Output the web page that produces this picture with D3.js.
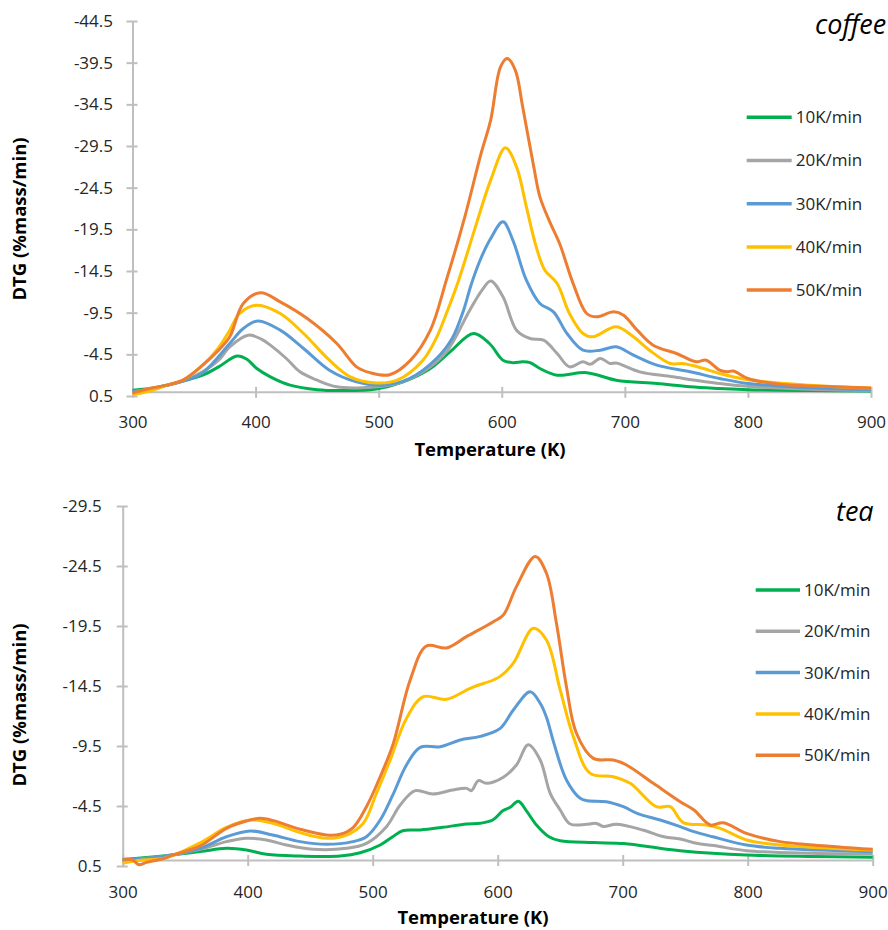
<!DOCTYPE html>
<html>
<head>
<meta charset="utf-8">
<script src="https://cdn.jsdelivr.net/npm/d3@7"></script>
<style>
  html, body { margin: 0; padding: 0; background: #fff; }
  svg { display: block; font-family: "Open Sans", sans-serif; }
</style>
</head>
<body>
<svg id="chart" width="888" height="930"></svg>
<script>
// ---------------- DATA ----------------
const seriesNames = ["10K/min", "20K/min", "30K/min", "40K/min", "50K/min"];
const seriesColors = ["#00B050", "#A5A5A5", "#5B9BD5", "#FFC000", "#ED7D31"];

const xTicks = [300, 400, 500, 600, 700, 800, 900];
const coffeeYTicks = ["0.5", "-4.5", "-9.5", "-14.5", "-19.5", "-24.5", "-29.5", "-34.5", "-39.5", "-44.5"];
const teaYTicks = ["0.5", "-4.5", "-9.5", "-14.5", "-19.5", "-24.5", "-29.5"];

// coffee: [temperature K, DTG %mass/min]
const coffee10 = [[300,-0.2],[314,-0.4],[328,-0.8],[341,-1.3],[357,-2.0],[370,-3.0],[385,-4.3],[393,-3.9],[401,-2.8],[412,-1.8],[428,-0.8],[450,-0.25],[471,-0.15],[498,-0.35],[520,-1.2],[542,-2.8],[558,-4.8],[577,-7.0],[590,-5.8],[601,-3.8],[609,-3.5],[617,-3.6],[623,-3.5],[631,-2.8],[645,-2.0],[669,-2.3],[693,-1.4],[726,-1.0],[753,-0.6],[777,-0.4],[800,-0.25],[850,-0.15],[900,-0.1]];
const coffee20 = [[300,0.0],[314,-0.3],[328,-0.8],[341,-1.3],[357,-2.4],[370,-3.8],[379,-5.4],[394,-6.8],[405,-6.3],[412,-5.6],[425,-4.0],[436,-2.4],[450,-1.4],[466,-0.6],[487,-0.5],[515,-1.0],[536,-2.4],[555,-4.8],[574,-9.8],[584,-12.2],[591,-13.3],[601,-11.4],[612,-7.4],[623,-6.4],[634,-6.2],[645,-4.6],[655,-3.0],[666,-3.6],[672,-3.3],[680,-4.0],[688,-3.4],[693,-3.45],[712,-2.4],[739,-1.8],[777,-1.0],[800,-0.66],[850,-0.3],[900,-0.15]];
const coffee30 = [[300,-0.05],[314,-0.3],[328,-0.8],[341,-1.3],[357,-2.3],[379,-5.8],[390,-7.6],[402,-8.5],[420,-7.4],[439,-5.2],[460,-2.6],[482,-1.2],[504,-0.8],[525,-1.6],[547,-4.0],[560,-6.5],[569,-9.8],[575,-12.8],[583,-16.0],[591,-18.4],[601,-20.4],[609,-18.2],[620,-13.4],[631,-10.6],[642,-9.6],[653,-7.0],[666,-5.0],[680,-5.0],[693,-5.4],[707,-4.4],[726,-3.2],[753,-2.4],[777,-1.6],[800,-1.0],[850,-0.5],[900,-0.25]];
const coffee40 = [[300,0.35],[314,-0.1],[328,-0.8],[341,-1.4],[357,-3.2],[370,-5.3],[379,-7.4],[387,-9.4],[401,-10.4],[420,-9.4],[439,-7.0],[460,-3.8],[477,-1.8],[498,-1.06],[515,-1.4],[536,-3.8],[547,-6.5],[555,-9.4],[565,-13.4],[578,-19.5],[591,-25.4],[603,-29.3],[612,-27.0],[620,-22.2],[628,-17.4],[635,-14.6],[645,-13.0],[655,-9.4],[666,-7.0],[674,-6.6],[693,-7.8],[707,-6.6],[720,-5.0],[737,-3.4],[747,-3.4],[764,-2.8],[777,-2.2],[800,-1.46],[850,-0.8],[900,-0.45]];
const coffee50 = [[300,0.15],[314,-0.4],[328,-0.8],[341,-1.4],[357,-3.2],[370,-5.0],[379,-6.6],[390,-10.6],[404,-11.9],[420,-10.8],[442,-8.8],[466,-5.8],[482,-3.0],[493,-2.3],[509,-2.05],[526,-3.8],[542,-7.4],[555,-13.4],[570,-21.0],[583,-28.5],[591,-32.6],[599,-39.0],[604.5,-40.0],[611,-38.6],[617,-34.2],[626,-27.0],[631,-23.4],[639,-20.4],[647,-17.8],[658,-13.0],[669,-9.4],[677,-9.0],[691,-9.6],[699,-9.2],[710,-7.4],[723,-5.6],[742,-4.6],[758,-3.6],[766,-3.8],[777,-2.6],[783,-2.4],[788,-2.5],[800,-1.6],[826,-0.9],[859,-0.66],[900,-0.46]];

// tea: [temperature K, DTG %mass/min]
const tea10 = [[300,-0.05],[332,-0.33],[362,-0.7],[383,-0.97],[399,-0.83],[415,-0.47],[442,-0.33],[474,-0.33],[490,-0.6],[506,-1.25],[516,-1.94],[524,-2.44],[538,-2.5],[556,-2.72],[575,-3.0],[586,-3.06],[596,-3.33],[604,-4.1],[610,-4.4],[616.5,-4.9],[623,-4.1],[631,-2.92],[641,-1.94],[650,-1.6],[677,-1.45],[701,-1.37],[730,-0.97],[746,-0.78],[772,-0.56],[799,-0.42],[850,-0.3],[900,-0.22]];
const tea20 = [[300,0.0],[332,-0.3],[362,-0.89],[383,-1.53],[399,-1.81],[415,-1.67],[431,-1.25],[452,-0.89],[479,-0.97],[495,-1.39],[511,-2.78],[522,-4.58],[534,-5.78],[548,-5.5],[564,-5.83],[575,-5.97],[579,-5.78],[584.5,-6.61],[591,-6.39],[604.5,-6.9],[615,-7.92],[624.5,-9.6],[634,-8.33],[642,-5.56],[650,-4.17],[658,-3.0],[671,-2.97],[679,-3.05],[684.5,-2.8],[695,-2.97],[716,-2.5],[733,-1.94],[746,-1.75],[759,-1.39],[773,-1.2],[799,-0.78],[852,-0.56],[900,-0.5]];
const tea30 = [[300,0.0],[332,-0.3],[362,-0.97],[383,-1.94],[402,-2.42],[420,-2.08],[442,-1.53],[463,-1.31],[484,-1.53],[495,-1.94],[506,-3.33],[516,-5.4],[527,-7.92],[538,-9.39],[554,-9.44],[570,-10.0],[586,-10.3],[602,-10.97],[612.5,-12.5],[626,-14.03],[634,-13.06],[639,-11.9],[645,-9.72],[655,-6.67],[666,-5.14],[672,-4.94],[687,-4.86],[700.5,-4.44],[712,-3.86],[730,-3.33],[746,-2.78],[757,-2.36],[772,-1.94],[799,-1.25],[826,-0.97],[900,-0.69]];
const tea40 = [[300,0.28],[313,0.05],[335,-0.2],[362,-1.44],[383,-2.72],[402,-3.33],[420,-3.06],[442,-2.28],[463,-1.81],[479,-2.08],[492.5,-3.06],[503,-5.56],[514,-8.33],[527,-11.8],[540.5,-13.61],[559,-13.39],[578,-14.31],[596.5,-15.0],[602,-15.3],[612.5,-16.4],[628.5,-19.31],[639,-18.33],[650,-14.17],[660.5,-10.28],[674,-7.22],[692.5,-6.94],[706,-6.39],[727,-4.44],[738,-4.44],[748.5,-3.11],[767,-2.92],[778,-2.64],[799,-1.67],[826,-1.25],[900,-0.83]];
const tea50 = [[300,-0.05],[308,0.0],[313,0.4],[319,0.2],[332,-0.1],[340,-0.4],[362,-1.17],[383,-2.64],[399,-3.25],[410,-3.47],[420.5,-3.28],[442,-2.56],[463,-2.08],[474,-2.14],[484.5,-2.72],[495,-4.44],[506,-6.94],[516.5,-9.72],[530,-15.0],[543,-17.83],[559,-17.67],[575,-18.61],[596.5,-19.86],[604.5,-20.42],[615,-22.78],[630,-25.3],[639,-23.9],[647,-19.72],[655,-14.44],[663,-10.56],[676.5,-8.47],[692.5,-8.33],[703,-7.92],[724.5,-6.39],[746,-4.86],[757,-4.17],[770,-2.92],[780.5,-3.11],[799,-2.22],[826,-1.53],[852.5,-1.25],[900,-0.89]];

const coffeeSeries = [coffee10, coffee20, coffee30, coffee40, coffee50];
const teaSeries = [tea10, tea20, tea30, tea40, tea50];

// ---------------- DRAW ----------------
const svg = d3.select("#chart");
svg.append("rect").attr("width", 888).attr("height", 930).attr("fill", "#fff");

const AXIS = "#BFBFBF";
const TEXT = "#262626";

function panel(cfg) {
  const g = svg.append("g");
  const x = d3.scaleLinear().domain([300, 900]).range([cfg.x0, cfg.x1]);
  const y = d3.scaleLinear().domain([0.5, cfg.yMax]).range([cfg.yBottom, cfg.yTop]);
  const tickVals = cfg.yTicks.map(Number);

  // y axis
  const ya = g.append("g").attr("transform", `translate(${cfg.x0},0)`)
    .call(d3.axisLeft(y).tickValues(tickVals).tickFormat((d, i) => cfg.yTicks[i]).tickSizeOuter(0));
  ya.select(".domain").attr("stroke", AXIS).attr("stroke-width", 2);
  ya.selectAll(".tick line").attr("stroke", AXIS).attr("stroke-width", 2).attr("x1", 5).attr("x2", -6);
  ya.selectAll(".tick text").attr("x", -cfg.yLabelGap).attr("fill", TEXT)
    .style("font-size", "17px").style("font-family", '"Open Sans", sans-serif');

  // x axis at value 0
  const xa = g.append("g").attr("transform", `translate(0,${y(0)})`)
    .call(d3.axisBottom(x).tickValues(xTicks).tickFormat(d3.format("d")).tickSizeOuter(0));
  xa.select(".domain").attr("stroke", AXIS).attr("stroke-width", 2);
  xa.selectAll(".tick line").attr("stroke", AXIS).attr("stroke-width", 2).attr("y1", -5).attr("y2", 6);
  xa.selectAll(".tick text").attr("y", cfg.xLabelDy).attr("dy", 0).attr("fill", TEXT)
    .style("font-size", "17px").style("font-family", '"Open Sans", sans-serif');

  // lines
  const line = d3.line().x(d => x(d[0])).y(d => y(d[1])).curve(d3.curveCatmullRom.alpha(0.5));
  cfg.series.forEach((s, i) => {
    g.append("path").datum(s).attr("d", line).attr("fill", "none")
      .attr("stroke", seriesColors[i]).attr("stroke-width", 3).attr("stroke-linejoin", "round");
  });

  // axis titles
  g.append("text").attr("x", cfg.xTitleX).attr("y", cfg.xTitleY).attr("text-anchor", "middle")
    .attr("fill", "#000").style("font-weight", "bold").style("font-size", "18.5px").text("Temperature (K)");
  g.append("text").attr("transform", `translate(${cfg.yTitleX},${cfg.yTitleY}) rotate(-90)`)
    .attr("text-anchor", "middle").attr("dy", "0.35em")
    .attr("fill", "#000").style("font-weight", "bold").style("font-size", "18.5px").text("DTG (%mass/min)");

  // panel title
  g.append("text").attr("x", cfg.titleX).attr("y", cfg.titleY).attr("fill", "#000")
    .style("font-style", "italic").style("font-size", "27px").text(cfg.title);

  // legend
  seriesNames.forEach((n, i) => {
    const ly = cfg.legY + i * cfg.legStep;
    g.append("line").attr("x1", cfg.legX0).attr("x2", cfg.legX1).attr("y1", ly).attr("y2", ly)
      .attr("stroke", seriesColors[i]).attr("stroke-width", 3.5);
    g.append("text").attr("x", cfg.legX1 + 4).attr("y", ly).attr("dy", "0.35em").attr("fill", TEXT)
      .style("font-size", "17px").text(n);
  });
}

panel({
  title: "coffee", titleX: 815, titleY: 34,
  x0: 132.5, x1: 871, yTop: 21, yBottom: 396, yMax: -44.5,
  yTicks: coffeeYTicks, yLabelGap: 19.5, xLabelDy: 36,
  series: coffeeSeries,
  xTitleX: 490, xTitleY: 456, yTitleX: 20, yTitleY: 219,
  legX0: 746.7, legX1: 791.7, legY: 117.3, legStep: 43.2
});

panel({
  title: "tea", titleX: 836, titleY: 521,
  x0: 122.7, x1: 872.7, yTop: 506, yBottom: 866, yMax: -29.5,
  yTicks: teaYTicks, yLabelGap: 21, xLabelDy: 38,
  series: teaSeries,
  xTitleX: 473, xTitleY: 924, yTitleX: 20, yTitleY: 705,
  legX0: 755.7, legX1: 800, legY: 590, legStep: 41.3
});
</script>
</body>
</html>
